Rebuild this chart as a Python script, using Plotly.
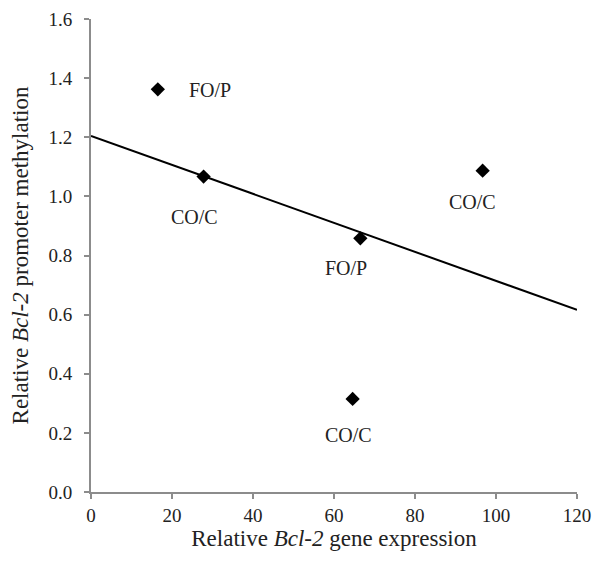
import numpy as np
import plotly.graph_objects as go

# Data
expression = [16.5, 27.8, 96.7, 66.5, 64.6]
methylation = [1.362, 1.067, 1.087, 0.858, 0.315]
groups = ["FO/P", "CO/C", "CO/C", "FO/P", "CO/C"]
# label pixel offsets relative to the point (style only)
label_dx = [52, -9, -10, -14, -4]
label_dy = [-1, -40, -31, -30, -36]

x_ticks = [0, 20, 40, 60, 80, 100, 120]
y_ticks = [0.0, 0.2, 0.4, 0.6, 0.8, 1.0, 1.2, 1.4, 1.6]

slope, intercept = np.polyfit(expression, methylation, 1)
line_x = [0, 120]
line_y = [intercept + slope * v for v in line_x]

font = "Liberation Serif, Times New Roman, serif"
txt = "#222222"
axc = "#8c8c8c"

fig = go.Figure()
fig.add_trace(go.Scatter(x=line_x, y=line_y, mode="lines",
                         line=dict(color="black", width=2), showlegend=False,
                         hoverinfo="skip"))
fig.add_trace(go.Scatter(x=expression, y=methylation, mode="markers",
                         marker=dict(symbol="diamond", size=11, color="black"),
                         showlegend=False))

for x, y, g, dx, dy in zip(expression, methylation, groups, label_dx, label_dy):
    fig.add_annotation(x=x, y=y, xref="x", yref="y", text=g, showarrow=False,
                       xshift=dx, yshift=dy,
                       font=dict(family=font, size=20, color=txt))

fig.update_layout(
    width=601, height=561,
    margin=dict(l=83, r=32, t=11, b=77, autoexpand=False),
    plot_bgcolor="white", paper_bgcolor="white",
    font=dict(family=font, size=19, color=txt),
)
fig.update_xaxes(range=[0, 120], tickvals=x_ticks, ticktext=[str(v) for v in x_ticks],
                 showgrid=False, zeroline=False, showline=True, linecolor=axc, linewidth=2,
                 ticks="outside", tickcolor=axc, ticklen=5, tickwidth=1.5, automargin=False,
                 ticklabeloverflow="allow",
                 tickfont=dict(family=font, size=19, color=txt),
                 title=dict(text="Relative <i>Bcl-2</i> gene expression",
                            font=dict(family=font, size=23, color=txt), standoff=4))
fig.update_yaxes(range=[0, 1.6], tickvals=y_ticks, ticktext=[f"{v:.1f}" for v in y_ticks],
                 showgrid=False, zeroline=False, showline=True, linecolor=axc, linewidth=2,
                 ticks="outside", tickcolor=axc, ticklen=5, tickwidth=1.5, automargin=False,
                 ticklabeloverflow="allow", ticklabelstandoff=8,
                 tickfont=dict(family=font, size=19, color=txt),
                 title=dict(text="Relative <i>Bcl-2</i> promoter methylation",
                            font=dict(family=font, size=23, color=txt), standoff=19))

fig.write_html("out.html")
